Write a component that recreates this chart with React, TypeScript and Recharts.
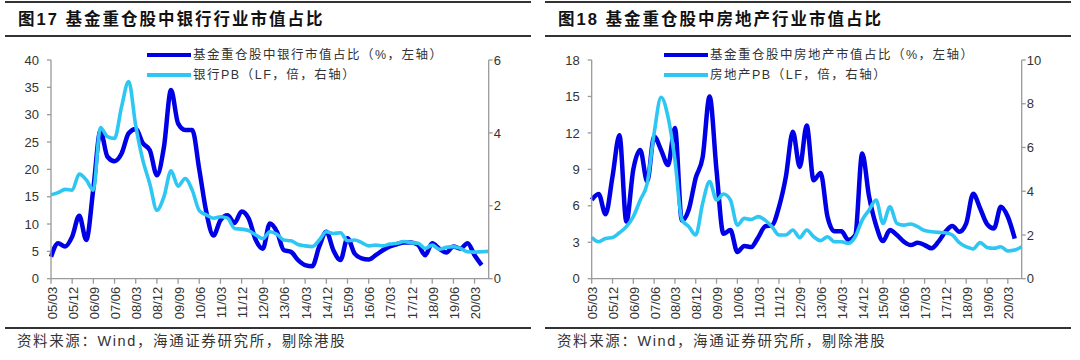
import React from 'react';
import { LineChart, Line, XAxis, YAxis } from 'recharts';

const quarters = [
  '05/03','05/06','05/09','05/12','06/03','06/06','06/09','06/12','07/03','07/06','07/09','07/12',
  '08/03','08/06','08/09','08/12','09/03','09/06','09/09','09/12','10/03','10/06','10/09','10/12',
  '11/03','11/06','11/09','11/12','12/03','12/06','12/09','12/12','13/03','13/06','13/09','13/12',
  '14/03','14/06','14/09','14/12','15/03','15/06','15/09','15/12','16/03','16/06','16/09','16/12',
  '17/03','17/06','17/09','17/12','18/03','18/06','18/09','18/12','19/03','19/06','19/09','19/12',
  '20/03','20/06','20/09'
];

const bankShare = [4.0, 6.5, 5.9, 7.7, 11.5, 7.1, 16.5, 27.0, 22.3, 21.5, 22.9, 26.6, 27.4, 24.8, 23.5, 18.9, 24.1, 34.5, 28.4, 27.2, 27.2, 20.0, 12.2, 7.9, 10.7, 11.6, 10.2, 12.3, 11.0, 7.1, 5.5, 10.1, 8.6, 5.2, 4.9, 3.4, 2.5, 2.3, 5.9, 8.6, 5.2, 3.4, 7.4, 4.6, 3.7, 3.5, 4.3, 5.2, 5.9, 6.3, 6.6, 6.6, 6.2, 4.3, 6.5, 5.5, 4.8, 5.9, 5.5, 6.5, 4.3, 2.5, null];
const bankPB = [2.30, 2.36, 2.45, 2.43, 2.87, 2.71, 2.43, 4.15, 3.90, 3.85, 4.72, 5.41, 4.20, 3.26, 2.60, 1.88, 2.25, 2.96, 2.54, 2.75, 2.43, 1.87, 1.75, 1.66, 1.70, 1.66, 1.38, 1.36, 1.32, 1.20, 1.10, 1.29, 1.22, 1.06, 1.04, 0.94, 0.90, 0.88, 1.06, 1.29, 1.24, 1.26, 1.04, 1.06, 0.99, 0.90, 0.92, 0.90, 0.95, 0.97, 1.02, 0.99, 0.97, 0.83, 0.92, 0.81, 0.86, 0.88, 0.83, 0.74, 0.73, 0.74, 0.75];

const propShare = [6.48, 6.97, 5.3, 8.4, 11.8, 4.7, 9.0, 10.6, 8.0, 11.7, 10.6, 9.35, 12.4, 4.8, 5.7, 8.3, 10.0, 15.0, 8.9, 3.7, 4.0, 2.2, 2.7, 2.6, 3.4, 4.3, 4.4, 5.9, 8.4, 12.1, 9.2, 12.6, 8.1, 8.7, 5.1, 3.9, 3.9, 3.2, 3.6, 10.3, 6.75, 4.4, 3.1, 4.0, 3.6, 3.05, 2.77, 2.96, 2.77, 2.5, 3.05, 3.87, 4.34, 3.87, 4.56, 7.0, 5.8, 4.5, 4.14, 5.93, 5.1, 3.3, null];
const propPB = [1.89, 1.69, 1.84, 1.88, 2.10, 2.38, 2.84, 3.6, 4.36, 6.65, 8.3, 7.4, 5.43, 2.7, 2.38, 2.0, 3.45, 4.44, 3.6, 3.87, 3.6, 2.45, 2.76, 2.71, 2.84, 2.68, 2.38, 2.0, 2.0, 2.23, 1.88, 2.23, 1.92, 1.74, 1.92, 1.69, 1.69, 1.62, 1.92, 2.68, 3.14, 3.6, 2.53, 3.29, 2.53, 2.45, 2.5, 2.38, 2.2, 2.15, 2.12, 2.1, 2.0, 1.65, 1.46, 1.36, 1.65, 1.43, 1.39, 1.46, 1.27, 1.31, 1.46];

const bankLeftTicks = [0, 5, 10, 15, 20, 25, 30, 35, 40];
const bankRightTicks = [0, 2, 4, 6];
const propLeftTicks = [0, 3, 6, 9, 12, 15, 18];
const propRightTicks = [0, 2, 4, 6, 8, 10];

const bankData = quarters.map((q, i) => ({ q, a: bankShare[i], b: bankPB[i] }));
const propData = quarters.map((q, i) => ({ q, a: propShare[i], b: propPB[i] }));

const DARK = '#0000E6';
const LIGHT = '#2EC6F2';
const AXIS = '#9A9A9A';
const NUM_FONT = '"Liberation Sans", Arial, sans-serif';
const CJK_FONT = '"Liberation Sans", "Noto Sans CJK SC", sans-serif';

const XTick = (props: any) => {
  const { x, y, payload } = props;
  return (
    <text
      transform={`translate(${x + 1},${y + 1}) rotate(-90)`}
      textAnchor="end"
      dominantBaseline="central"
      fontSize={13}
      fill="#333"
      fontFamily={NUM_FONT}
    >
      {payload.value}
    </text>
  );
};

type PanelProps = {
  offset: number;
  title: string;
  legendA: string;
  legendB: string;
  data: any[];
  leftTicks: number[];
  rightTicks: number[];
  leftW: number;
  rightW: number;
  legendX: number;
};

const Panel = (p: PanelProps) => {
  const tickStyle = { fontSize: 13, fill: '#333', fontFamily: NUM_FONT };
  return (
    <div style={{ position: 'absolute', left: p.offset, top: 0, width: 540, height: 360 }}>
      <div style={{ position: 'absolute', left: 5, width: 526, top: 1, height: 1.5, background: '#333' }} />
      <div style={{ position: 'absolute', left: 5, width: 526, top: 35, height: 1.5, background: '#333' }} />
      <div style={{ position: 'absolute', left: 5, width: 526, top: 327, height: 1.5, background: '#333' }} />
      <div
        style={{
          position: 'absolute', left: 18, top: 7, height: 24, lineHeight: '24px',
          fontSize: 16.5, fontWeight: 700, letterSpacing: 2, color: '#111',
          fontFamily: CJK_FONT, whiteSpace: 'nowrap',
        }}
      >
        {p.title}
      </div>
      <div
        style={{
          position: 'absolute', left: 17, top: 331, height: 20, lineHeight: '20px',
          fontSize: 14.5, letterSpacing: 1.6, color: '#333', fontFamily: CJK_FONT, whiteSpace: 'nowrap',
        }}
      >
        资料来源：Wind，海通证券研究所，剔除港股
      </div>
      <div style={{ position: 'absolute', left: 0, top: 0 }}>
        <LineChart width={540} height={360} data={p.data} margin={{ top: 60, right: 0, bottom: 0, left: 0 }}>
          <XAxis
            dataKey="q"
            interval={2}
            height={81.3}
            tick={<XTick />}
            tickSize={5}
            tickMargin={2}
            axisLine={{ stroke: AXIS, strokeWidth: 1.3 }}
            tickLine={{ stroke: AXIS, strokeWidth: 1.3 }}
          />
          <YAxis
            yAxisId="l"
            orientation="left"
            width={p.leftW}
            domain={[p.leftTicks[0], p.leftTicks[p.leftTicks.length - 1]]}
            ticks={p.leftTicks}
            interval={0}
            tickSize={4}
            tickMargin={8}
            tick={tickStyle}
            axisLine={{ stroke: AXIS, strokeWidth: 1.3 }}
            tickLine={{ stroke: AXIS, strokeWidth: 1.3 }}
          />
          <YAxis
            yAxisId="r"
            orientation="right"
            width={p.rightW}
            domain={[p.rightTicks[0], p.rightTicks[p.rightTicks.length - 1]]}
            ticks={p.rightTicks}
            interval={0}
            tickSize={4}
            tickMargin={1}
            tick={tickStyle}
            axisLine={{ stroke: AXIS, strokeWidth: 1.3 }}
            tickLine={{ stroke: AXIS, strokeWidth: 1.3 }}
          />
          <Line yAxisId="l" dataKey="a" type="monotone" stroke={DARK} strokeWidth={4.5} dot={false} isAnimationActive={false} connectNulls={false} />
          <Line yAxisId="r" dataKey="b" type="monotone" stroke={LIGHT} strokeWidth={3.6} dot={false} isAnimationActive={false} />
        </LineChart>
      </div>
      {[{ c: DARK, t: p.legendA, y: 55 }, { c: LIGHT, t: p.legendB, y: 74.5 }].map((it, k) => (
        <div key={k}>
          <div style={{ position: 'absolute', left: p.legendX, top: it.y - 2, width: 44, height: 4, background: it.c }} />
          <div
            style={{
              position: 'absolute', left: p.legendX + 46, top: it.y - 9, height: 18, lineHeight: '18px',
              fontSize: 12.5, letterSpacing: 1.5, color: '#333', fontFamily: CJK_FONT, whiteSpace: 'nowrap',
            }}
          >
            {it.t}
          </div>
        </div>
      ))}
    </div>
  );
};

export default function App() {
  return (
    <div style={{ position: 'absolute', left: 0, top: 0, width: 1080, height: 360, background: '#fff', overflow: 'hidden' }}>
      <Panel
        offset={0}
        title="图17 基金重仓股中银行行业市值占比"
        legendA="基金重仓股中银行市值占比（%，左轴）"
        legendB="银行PB（LF，倍，右轴）"
        data={bankData}
        leftTicks={bankLeftTicks}
        rightTicks={bankRightTicks}
        leftW={51}
        rightW={51.3}
        legendX={147}
      />
      <Panel
        offset={540}
        title="图18 基金重仓股中房地产行业市值占比"
        legendA="基金重仓股中房地产市值占比（%，左轴）"
        legendB="房地产PB（LF，倍，右轴）"
        data={propData}
        leftTicks={propLeftTicks}
        rightTicks={propRightTicks}
        leftW={51.7}
        rightW={58.3}
        legendX={124}
      />
    </div>
  );
}
